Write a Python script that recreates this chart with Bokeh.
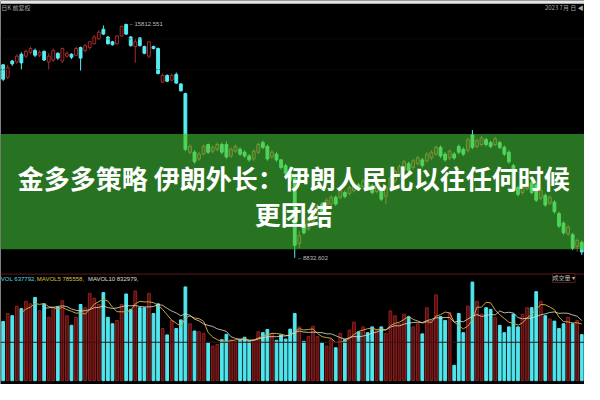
import numpy as np
import pandas as pd
from bokeh.plotting import figure
from bokeh.models import ColumnDataSource, Range1d, BoxAnnotation, Label, Span
from bokeh.embed import file_html
from bokeh.resources import INLINE

opens = [14583, 14211, 14697, 14669, 14897, 14840, 14955, 15012, 14869, 14983,
         14669, 14726, 14926, 14697, 14840, 14897, 14869, 15098, 15012, 15098,
         15212, 15355, 15641, 15412, 15269, 15212, 15441, 15784, 15412, 15126,
         15384, 15126, 14840, 15126, 15069, 14068, 14268, 14125, 14297, 14011,
         13725, 11980, 11980, 11780, 11923, 12209, 12009, 12066, 12209, 12209,
         11866, 12009, 12066, 11980, 11866, 11780, 11980, 12266, 12152, 11837,
         11923, 11751, 11580, 11351, 11208, 9263, 9835, 9692, 9921, 10150,
         10436, 10322, 10436, 10636, 10636, 10779, 10750, 10836, 11008, 10951,
         11065, 10979, 10808, 10865, 10665, 10922, 11122, 11322, 11465, 11637,
         11523, 11637, 11751, 11723, 11809, 11923, 12123, 11923, 11809, 11923,
         12152, 12066, 12037, 12495, 12152, 12209, 12352, 12266, 12209, 12266,
         12123, 11980, 11580, 10922, 10779, 10893, 11065, 11008, 10607, 10693,
         10464, 10493, 10150, 9864, 9549, 9521, 9177, 9292]
highs = [14611, 14583, 14726, 14897, 14955, 15040, 15126, 15069, 15012, 15012,
         14926, 15069, 14955, 15098, 14983, 14926, 15126, 15126, 15212, 15298,
         15469, 15612, 15755, 15441, 15298, 15469, 15755, 15812.551, 15441, 15355,
         15412, 15155, 15298, 15155, 15098, 14325, 14297, 14325, 14354, 14039,
         13753, 12209, 12037, 11980, 12209, 12238, 12180, 12266, 12266, 12295,
         12123, 12209, 12123, 12037, 11923, 12066, 12266, 12323, 12209, 12037,
         11980, 11780, 11637, 11408, 11265, 9635, 9921, 10035, 10264, 10436,
         10493, 10607, 10693, 10693, 10893, 10836, 10979, 11065, 11065, 11179,
         11122, 11036, 11065, 10922, 10979, 11265, 11465, 11608, 11751, 11694,
         11780, 11866, 11809, 11980, 12037, 12180, 12180, 11980, 12066, 11980,
         12209, 12123, 12409, 12638, 12381, 12466, 12409, 12323, 12438, 12323,
         12180, 12037, 11637, 10979, 11065, 11179, 11122, 11065, 10893, 10750,
         10693, 10550, 10207, 9921, 9807, 9578, 9406, 9349]
lows = [14097, 14154, 14554, 14611, 14440, 14783, 14897, 14812, 14812, 14697,
        14440, 14669, 14726, 14640, 14783, 14754, 14840, 14411, 14955, 15040,
        15183, 15326, 15469, 15183, 15155, 15183, 15412, 15469, 15126, 14640,
        15126, 14897, 14783, 15040, 14297, 14039, 14068, 14097, 14011, 13782,
        12009, 11923, 11637, 11723, 11894, 11923, 11952, 12009, 11923, 11780,
        11809, 11952, 11866, 11809, 11694, 11723, 11923, 12066, 11723, 11780,
        11694, 11465, 11294, 11094, 8832.602, 9120, 9521, 9635, 9864, 10093,
        10150, 10264, 10379, 10379, 10579, 10607, 10693, 10779, 10836, 10893,
        10865, 10722, 10750, 10522, 10436, 10865, 11065, 11265, 11408, 11380,
        11465, 11580, 11523, 11666, 11751, 11866, 11809, 11694, 11751, 11751,
        11923, 11866, 11980, 12066, 12095, 12152, 12152, 12095, 12152, 12066,
        11866, 11637, 10865, 10665, 10722, 10836, 10722, 10493, 10550, 10350,
        10407, 10150, 9721, 9521, 9492, 9063, 9006, 8920]
closes = [14154, 14497, 14611, 14840, 14640, 14983, 15069, 14869, 14955, 14726,
          14840, 15012, 14783, 15069, 14926, 14812, 15069, 14783, 15155, 15269,
          15412, 15555, 15498, 15212, 15183, 15441, 15727, 15498, 15155, 15269,
          15155, 14926, 15269, 15069, 14325, 14268, 14097, 14268, 14039, 13811,
          12066, 12152, 11694, 11923, 12152, 11980, 12123, 12209, 11980, 11837,
          12066, 12152, 11923, 11866, 11751, 12009, 12209, 12123, 11780, 11980,
          11751, 11523, 11351, 11151, 9206, 9492, 9578, 9978, 10207, 10379,
          10207, 10550, 10636, 10436, 10836, 10665, 10922, 11008, 10893, 11122,
          10922, 10779, 11008, 10579, 10922, 11208, 11408, 11551, 11694, 11437,
          11723, 11809, 11580, 11923, 11980, 12123, 11866, 11751, 12009, 11809,
          11980, 11923, 12352, 12123, 12323, 12409, 12209, 12152, 12381, 12123,
          11923, 11694, 10922, 10722, 11008, 11122, 10779, 10550, 10836, 10407,
          10636, 10207, 9778, 9578, 9749, 9120, 9349, 9006]
volumes = [820000, 931000, 900000, 1033000, 998000, 1100000, 1064000, 1153000, 967000, 1064000,
           878000, 1011000, 1020000, 1108000, 900000, 767000, 878000, 1055000, 1011000, 1210000,
           1144000, 1055000, 1220000, 878000, 789000, 834000, 1055000, 1201000, 988000, 1241000,
           1011000, 1011000, 1210000, 931000, 1064000, 722000, 634000, 834000, 722000, 842000,
           1299000, 789000, 688000, 678000, 656000, 523000, 479000, 501000, 568000, 642000,
           568000, 545000, 559000, 602000, 545000, 568000, 678000, 665000, 709000, 656000,
           559000, 634000, 576000, 714000, 931000, 745000, 545000, 612000, 754000, 612000,
           523000, 479000, 568000, 456000, 656000, 568000, 701000, 811000, 678000, 745000,
           665000, 745000, 701000, 745000, 656000, 967000, 900000, 789000, 922000, 887000,
           745000, 789000, 648000, 1011000, 834000, 1188000, 887000, 834000, 944000, 213000,
           931000, 665000, 1033000, 1366000, 1100000, 922000, 1011000, 988000, 878000, 767000,
           665000, 745000, 922000, 745000, 922000, 1011000, 1011000, 1233000, 1100000, 900000,
           855000, 825000, 722000, 789000, 878000, 789000, 834000, 637792]

headline = ["金多多策略 伊朗外长：伊朗人民比以往任何时候", "更团结"]

o = np.array(opens, float); h = np.array(highs, float)
l = np.array(lows, float); c = np.array(closes, float)
v = np.array(volumes, float)
n = len(o)
x = np.arange(n)
up = c > o

UP_C = "#a8282a"
DN_C = "#55eef2"

src = ColumnDataSource(dict(
    x=x, o=o, h=h, l=l, c=c,
    top=np.maximum(o, c), bot=np.minimum(o, c),
    line=np.where(up, UP_C, DN_C),
    fill=np.where(up, "#000000", DN_C),
    vol=v,
    vfill=np.where(up, "#560e0e", "#50e6ee"),
    vline=np.where(up, "#8e2020", "#50e6ee"),
))

p = figure(width=584, height=384, output_backend="svg", toolbar_location=None,
           x_axis_type=None, y_axis_type=None,
           x_range=Range1d(-0.58, 127.6), y_range=Range1d(5059, 16499),
           background_fill_color="black", border_fill_color="black",
           min_border=0, outline_line_color=None)
p.extra_y_ranges = {"vol": Range1d(-53200, 5266800)}

# faint grid / separators
for loc, col, dash in [(15355, "#3a1212", "1 2"), (14440, "#2e0e0e", "1 2"),
                       (8348, "#5e1a1a", "solid"), (6317, "#3e1212", "solid")]:
    p.add_layout(Span(location=loc, dimension="width", line_color=col,
                      line_width=1, line_dash=dash))

# candles
p.segment("x", "h", "x", "l", source=src, line_color="line", line_width=1)
p.vbar(x="x", width=0.62, top="top", bottom="bot", source=src,
       fill_color="fill", line_color="line", line_width=1)

# volume
p.vbar(x="x", width=0.6, top="vol", bottom=0, source=src, y_range_name="vol",
       fill_color="vfill", line_color="vline", line_width=1)
ma5 = pd.Series(v).rolling(5).mean()
ma10 = pd.Series(v).rolling(10).mean()
p.line(x, ma5.values, y_range_name="vol", line_color="#c9a33c", line_width=1)
p.line(x, ma10.values, y_range_name="vol", line_color="#e6dcc8", line_width=1, line_alpha=0.8)

# banner
BT, BB = 12524, 9092
p.add_layout(BoxAnnotation(top=BT, bottom=BB, fill_color="#2b7a23", fill_alpha=0.94,
                           line_color=None, level="guide"))

# candles seen through banner
m = (h >= BB) & (l <= BT)
gsrc = ColumnDataSource(dict(
    x=x[m],
    h=np.clip(h[m], BB, BT), l=np.clip(l[m], BB, BT),
    top=np.clip(np.maximum(o, c)[m], BB, BT), bot=np.clip(np.minimum(o, c)[m], BB, BT),
    line=np.where(up[m], "#86983c", "#55d85e"),
    fill=np.where(up[m], "#2b7a23", "#55d85e"),
))
p.segment("x", "h", "x", "l", source=gsrc, line_color="line", line_width=1,
          line_alpha=0.85, level="annotation")
p.vbar(x="x", width=0.62, top="top", bottom="bot", source=gsrc,
       fill_color="fill", line_color="line", line_width=1, alpha=0.85, level="annotation")

# headline
cx = 63.8
for txt, yy in zip(headline, [11230, 10150]):
    p.add_layout(Label(x=cx, y=yy, text=txt, text_font="Noto Sans CJK SC",
                       text_font_style="bold", text_font_size="26px",
                       text_color="white", text_align="center",
                       text_baseline="middle", level="overlay"))

# high / low markers
ih = int(np.argmax(h)); il = int(np.argmin(l))
p.add_layout(Label(x=ih + 0.5, y=h[ih], text=f"←{h[ih]:.3f}", text_font_size="6px",
                   text_color="#bbbbbb", text_baseline="middle"))
p.add_layout(Label(x=il + 0.5, y=l[il], text=f"←{l[il]:.3f}", text_font_size="6px",
                   text_color="#bbbbbb", text_baseline="middle"))

# volume header
hy = 8205
p.add_layout(Label(x=-0.5, y=hy, text=f"VOL {int(v[-1])},", text_font_size="6px",
                   text_color="#55d8e0", text_baseline="middle"))
p.add_layout(Label(x=7.4, y=hy, text=f"MAVOL5 {int(ma5.iloc[-1])},", text_font_size="6px",
                   text_color="#d8c040", text_baseline="middle"))
p.add_layout(Label(x=18.6, y=hy, text=f"MAVOL10 {int(ma10.iloc[-1])},", text_font_size="6px",
                   text_color="#dddddd", text_baseline="middle"))
p.add_layout(Label(x=120.6, y=8234, text="成交量 ▾", text_font="Noto Sans CJK SC",
                   text_font_size="6px", text_color="#bbbbbb", text_baseline="middle",
                   border_line_color="#5e1a1a", background_fill_color="black"))

# top header strip
p.add_layout(BoxAnnotation(bottom=16399, fill_color="#e4e4e4", fill_alpha=1, line_color=None))
p.add_layout(Label(x=-0.4, y=16290, text="日K 前复权", text_font="Noto Sans CJK SC",
                   text_font_size="6px", text_color="#aaaaaa", text_baseline="middle"))
p.add_layout(Label(x=127.4, y=16290, text="2023 7月 日 ◀", text_font="Noto Sans CJK SC",
                   text_font_size="6px", text_color="#aaaaaa", text_baseline="middle",
                   text_align="right"))

open("out.html", "w").write(file_html(p, INLINE))
